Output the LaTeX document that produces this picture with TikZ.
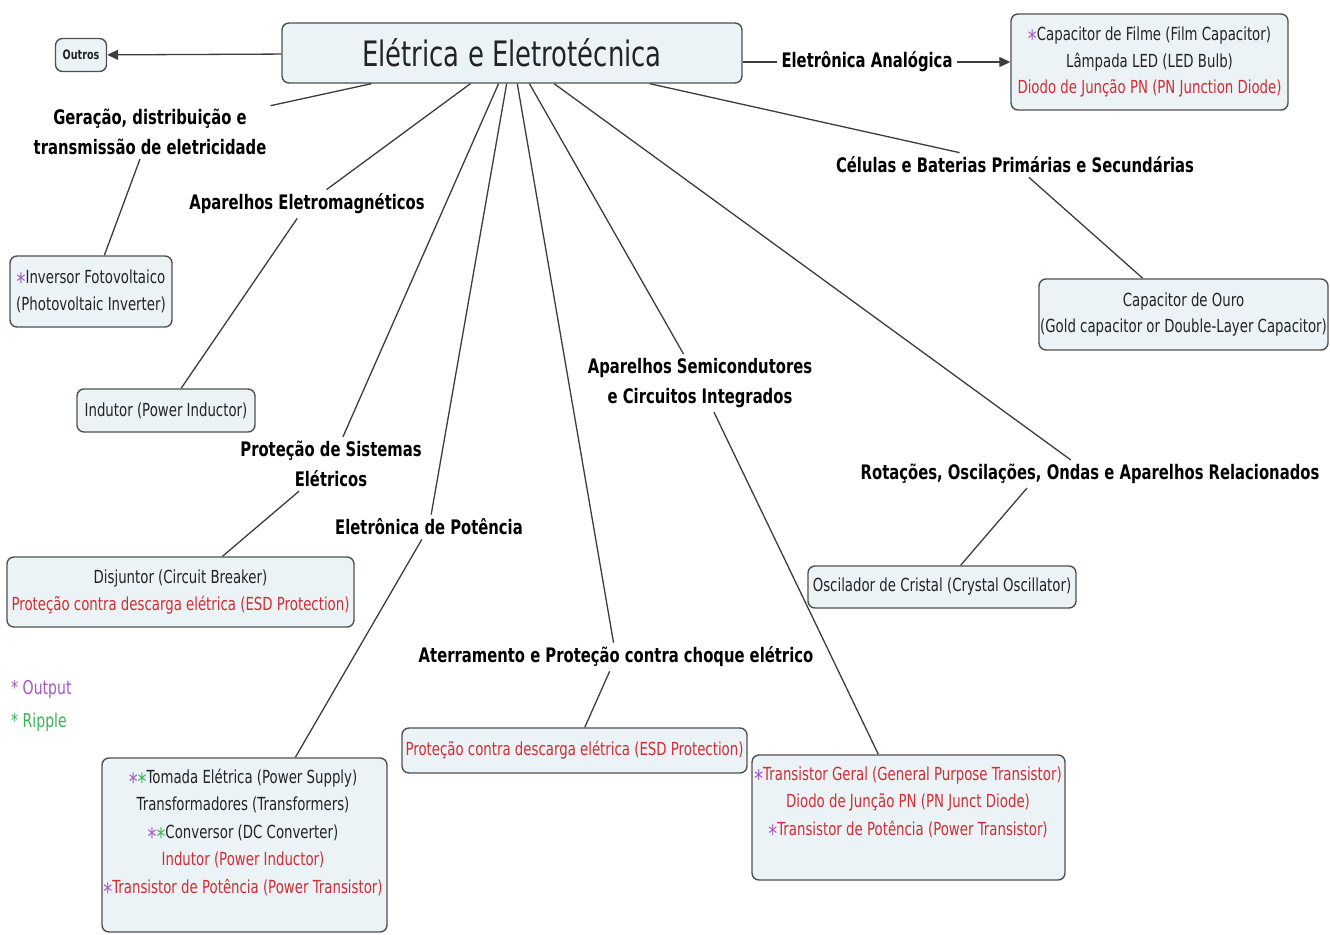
\documentclass[tikz,border=0pt]{standalone}
\usepackage{fontspec}
\setmainfont{DejaVu Sans}[FakeStretch=0.74]
\usetikzlibrary{arrows.meta}
\definecolor{boxfill}{RGB}{236,243,246}
\definecolor{boxdraw}{RGB}{80,80,80}
\definecolor{linecol}{RGB}{60,60,60}
\definecolor{txt}{RGB}{35,35,35}
\definecolor{redtxt}{RGB}{208,45,52}
\definecolor{purp}{RGB}{165,85,195}
\definecolor{grn}{RGB}{55,180,85}
\newcommand{\bigast}{\raisebox{-7pt}[0pt][0pt]{\fontsize{24}{24}\selectfont *}}
\newcommand{\pst}{{\color{purp}\bigast}}
\newcommand{\gst}{{\color{grn}\bigast}}
\begin{document}
\begin{tikzpicture}[x=1pt,y=-1pt,
  box/.style={draw=boxdraw, fill=boxfill, rounded corners=7pt, line width=1.4pt, inner sep=0pt, align=center, text=txt, font=\fontsize{18}{26.5}\selectfont},
  btext/.style={inner sep=0pt, align=center, text=txt, font=\fontsize{18}{27.5}\selectfont},
  lbl/.style={inner sep=4pt, align=center, text=black, font=\fontsize{20}{30}\selectfont\bfseries},
  con/.style={draw=linecol, line width=1.3pt},
  arr/.style={con, -{Triangle[length=11pt,width=10pt]}},
  legend/.style={anchor=west, inner sep=0pt, font=\fontsize{19}{22}\selectfont}]
\useasboundingbox (0,0) rectangle (1330,934);

% boxes
\node[box, minimum width=460pt, minimum height=60pt, font=\fontsize{35}{40}\selectfont] (main) at (512,53) {Elétrica e Eletrotécnica};
\node[box, minimum width=51pt, minimum height=33pt, font=\fontsize{13}{15}\selectfont\bfseries] (outros) at (81,55) {Outros};
\node[box, minimum width=277pt, minimum height=96pt] (tr) at (1149.5,62) {\pst Capacitor de Filme (Film Capacitor)\\Lâmpada LED (LED Bulb)\\{\color{redtxt}Diodo de Junção PN (PN Junction Diode)}};
\node[box, minimum width=162pt, minimum height=71pt] (inv) at (91,291.5) {\pst Inversor Fotovoltaico\\(Photovoltaic Inverter)};
\node[box, minimum width=178pt, minimum height=43pt] (ind) at (166,410.5) {Indutor (Power Inductor)};
\node[box, minimum width=347pt, minimum height=70pt] (dis) at (180.5,592) {Disjuntor (Circuit Breaker)\\{\color{redtxt}Proteção contra descarga elétrica (ESD Protection)}};
\node[box, minimum width=285pt, minimum height=174pt] (bl) at (244.5,845) {};
\node[btext] (bltext) at (243,832) {\pst\gst Tomada Elétrica (Power Supply)\\Transformadores (Transformers)\\\pst\gst Conversor (DC Converter)\\{\color{redtxt}Indutor (Power Inductor)}\\\pst{\color{redtxt}Transistor de Potência (Power Transistor)}};
\node[box, minimum width=345pt, minimum height=45pt] (esd) at (574.5,750.5) {{\color{redtxt}Proteção contra descarga elétrica (ESD Protection)}};
\node[box, minimum width=313pt, minimum height=125pt] (br) at (908.5,817.5) {};
\node[btext] (brtext) at (908,802) {\pst{\color{redtxt}Transistor Geral (General Purpose Transistor)}\\{\color{redtxt}Diodo de Junção PN (PN Junct Diode)}\\\pst{\color{redtxt}Transistor de Potência (Power Transistor)}};
\node[box, minimum width=268pt, minimum height=42pt] (osc) at (942,587) {Oscilador de Cristal (Crystal Oscillator)};
\node[box, minimum width=289pt, minimum height=71pt] (cap) at (1183.5,314.5) {Capacitor de Ouro\\(Gold capacitor or Double-Layer Capacitor)};

% labels
\node[lbl] (ana) at (867,62) {Eletrônica Analógica};
\node[lbl] (gen) at (150,132) {Geração, distribuição e\\transmissão de eletricidade};
\node[lbl] (emag) at (307,204) {Aparelhos Eletromagnéticos};
\node[lbl] (prot) at (331,464) {Proteção de Sistemas\\Elétricos};
\node[lbl] (pot) at (429,527) {Eletrônica de Potência};
\node[lbl] (semi) at (700,383) {Aparelhos Semicondutores\\e Circuitos Integrados};
\node[lbl] (cel) at (1015,165) {Células e Baterias Primárias e Secundárias};
\node[lbl] (rot) at (1090,474) {Rotações, Oscilações, Ondas e Aparelhos Relacionados};
\node[lbl] (ater) at (616,657) {Aterramento e Proteção contra choque elétrico};

% legend
\node[legend, text=purp] (lout) at (11,689) {* Output};
\node[legend, text=grn] (lrip) at (11,722) {* Ripple};

% connectors
\draw[arr] (main) -- (outros);
\draw[con] (main.east |- ana.west) -- (ana.west);
\draw[arr] (ana.east) -- (tr.west |- ana.east);
\draw[con] (main) -- (gen);
\draw[con] (gen) -- (inv);
\draw[con] (main) -- (emag);
\draw[con] (emag) -- (ind);
\draw[con] (main) -- (prot);
\draw[con] (prot) -- (dis);
\draw[con] (main) -- (pot);
\draw[con] (pot) -- (bl);
\draw[con] (main) -- (ater);
\draw[con] (ater) -- (esd);
\draw[con] (main) -- (semi);
\draw[con] (semi) -- (br);
\draw[con] (main) -- (rot);
\draw[con] ([xshift=-63pt]rot.south) -- (osc);
\draw[con] (main) -- (cel);
\draw[con] (cel) -- (cap);
\end{tikzpicture}
\end{document}
